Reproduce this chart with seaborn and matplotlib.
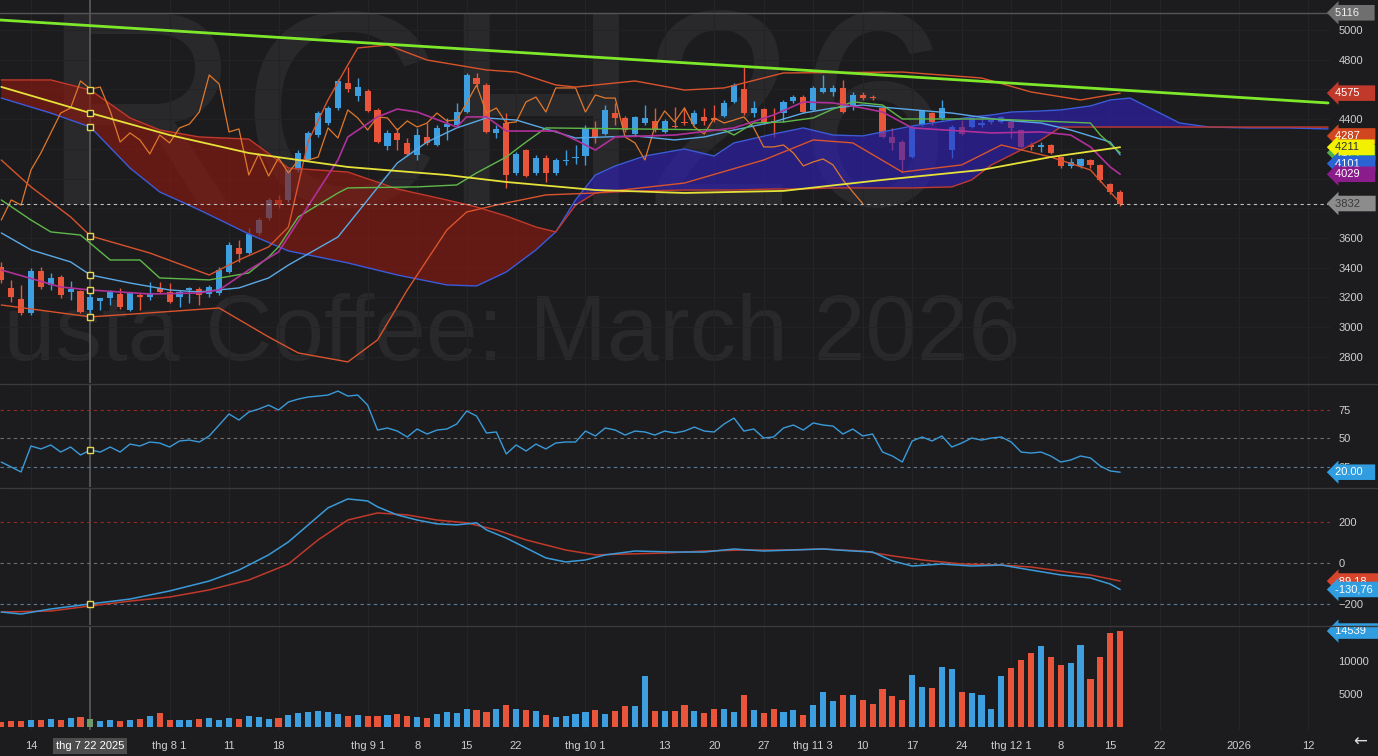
import numpy as np
import matplotlib
matplotlib.use("Agg")
import matplotlib.pyplot as plt
import matplotlib.transforms as mtransforms
from matplotlib.lines import Line2D
import seaborn as sns

# --- Dữ liệu nến (chỉ số phiên giao dịch 0..113) ---
opens = [3405, 3264, 3190, 3095, 3378, 3284, 3338, 3237, 3244, 3116,
         3176, 3196, 3223, 3116, 3217, 3203, 3264, 3237, 3203, 3250,
         3257, 3223, 3230, 3371, 3533, 3499, 3634, 3735, 3856, 3856,
         4058, 4125, 4293, 4374, 4475, 4643, 4556, 4590, 4462, 4219,
         4307, 4240, 4159, 4280, 4226, 4347, 4361, 4448, 4677, 4630,
         4307, 4374, 4038, 4192, 4038, 4139, 4038, 4118, 4139, 4152,
         4334, 4300, 4441, 4408, 4300, 4374, 4388, 4314, 4354, 4381,
         4367, 4415, 4408, 4421, 4516, 4603, 4441, 4468, 4388, 4441,
         4522, 4549, 4462, 4583, 4583, 4610, 4482, 4563, 4549, 4475,
         4280, 4246, 4145, 4361, 4441, 4408, 4192, 4347, 4347, 4361,
         4381, 4381, 4381, 4327, 4226, 4213, 4226, 4145, 4085, 4085,
         4125, 4092, 3964, 3910]
highs = [3439, 3318, 3284, 3398, 3405, 3365, 3351, 3311, 3250, 3230,
         3196, 3250, 3264, 3237, 3230, 3304, 3304, 3297, 3250, 3270,
         3270, 3284, 3405, 3573, 3587, 3668, 3735, 3869, 3890, 4071,
         4192, 4320, 4455, 4489, 4670, 4751, 4677, 4603, 4475, 4327,
         4341, 4273, 4341, 4374, 4361, 4408, 4509, 4711, 4711, 4643,
         4361, 4441, 4179, 4199, 4159, 4159, 4139, 4192, 4226, 4361,
         4388, 4495, 4509, 4421, 4421, 4495, 4475, 4401, 4482, 4482,
         4462, 4475, 4495, 4529, 4643, 4751, 4522, 4475, 4475, 4529,
         4563, 4563, 4623, 4697, 4630, 4664, 4583, 4583, 4563, 4482,
         4341, 4260, 4354, 4462, 4448, 4529, 4361, 4394, 4415, 4408,
         4401, 4421, 4394, 4334, 4246, 4246, 4233, 4145, 4139, 4139,
         4132, 4098, 3970, 3923]
lows = [3297, 3170, 3082, 3082, 3257, 3250, 3196, 3183, 3095, 3095,
        3116, 3149, 3122, 3109, 3116, 3183, 3230, 3163, 3136, 3163,
        3149, 3203, 3217, 3365, 3439, 3493, 3620, 3721, 3802, 3842,
        4044, 4118, 4280, 4361, 4462, 4583, 4522, 4448, 4240, 4192,
        4192, 4159, 4125, 4226, 4219, 4260, 4347, 4441, 4616, 4307,
        4273, 3937, 4024, 4011, 4024, 3977, 4024, 4092, 4098, 4092,
        4240, 4293, 4361, 4314, 4293, 4361, 4314, 4307, 4341, 4361,
        4361, 4361, 4381, 4415, 4509, 4428, 4415, 4367, 4280, 4381,
        4509, 4441, 4455, 4576, 4556, 4441, 4462, 4529, 4529, 4273,
        4192, 4038, 4139, 4354, 4361, 4394, 4139, 4293, 4341, 4347,
        4367, 4374, 4273, 4206, 4192, 4179, 4166, 4071, 4071, 4071,
        4071, 3977, 3896, 3816]
closes = [3318, 3203, 3095, 3378, 3270, 3331, 3217, 3257, 3102, 3203,
          3196, 3237, 3136, 3230, 3203, 3230, 3237, 3170, 3237, 3264,
          3217, 3270, 3385, 3553, 3493, 3627, 3721, 3856, 3822, 4058,
          4172, 4307, 4441, 4475, 4657, 4603, 4616, 4455, 4246, 4307,
          4260, 4166, 4293, 4240, 4341, 4367, 4448, 4697, 4637, 4314,
          4334, 4024, 4166, 4017, 4139, 4038, 4125, 4125, 4145, 4341,
          4273, 4462, 4408, 4327, 4415, 4408, 4327, 4388, 4347, 4374,
          4441, 4388, 4394, 4509, 4630, 4441, 4475, 4374, 4381, 4516,
          4549, 4448, 4610, 4610, 4610, 4448, 4563, 4542, 4542, 4280,
          4240, 4125, 4347, 4455, 4381, 4475, 4347, 4300, 4408, 4374,
          4394, 4415, 4341, 4213, 4213, 4226, 4172, 4085, 4112, 4132,
          4092, 3991, 3910, 3832]
volumes = [758, 909, 909, 1061, 1061, 1212, 1061, 1364, 1515, 1212,
           909, 1061, 909, 1061, 1212, 1667, 2121, 1061, 1061, 1061,
           1212, 1364, 1061, 1364, 1212, 1667, 1515, 1212, 1364, 1818,
           2121, 2273, 2424, 2273, 1970, 1667, 1818, 1667, 1667, 1818,
           1970, 1667, 1515, 1364, 1970, 2273, 2121, 2727, 2576, 2273,
           2727, 3333, 2727, 2576, 2424, 1818, 1515, 1667, 1970, 2273,
           2576, 1970, 2424, 3182, 3182, 7727, 2424, 2424, 2424, 3333,
           2424, 2121, 2727, 2727, 2273, 4848, 2576, 2121, 2727, 2273,
           2576, 1818, 3333, 5303, 3939, 4848, 4848, 4091, 3485, 5758,
           4697, 4091, 7879, 6061, 5909, 9091, 8788, 5303, 5152, 4848,
           2727, 7727, 8939, 10152, 11212, 12273, 10606, 9394, 9697, 12424,
           7273, 10606, 14242, 14539]
rsi = [28.9, 24.6, 20.2, 43.0, 40.4, 43.9, 37.7, 42.1, 35.1, 39.5,
       37.7, 42.1, 37.7, 44.7, 43.0, 46.5, 45.6, 42.1, 47.4, 48.2,
       46.5, 51.8, 61.4, 71.1, 65.8, 72.8, 75.4, 78.9, 74.6, 81.6,
       84.2, 86.0, 86.8, 87.7, 91.2, 86.8, 87.7, 78.9, 57.0, 58.8,
       56.1, 50.9, 57.9, 53.5, 57.0, 57.9, 62.3, 73.7, 69.3, 54.4,
       55.3, 36.0, 43.9, 38.6, 44.7, 40.4, 45.6, 46.5, 46.5, 56.1,
       51.8, 58.8, 57.0, 52.6, 56.1, 55.3, 52.6, 56.1, 54.4, 56.1,
       59.6, 56.1, 55.3, 62.3, 67.5, 56.1, 57.9, 50.0, 50.9, 58.8,
       61.4, 57.0, 63.2, 61.4, 60.5, 53.5, 57.9, 51.8, 53.5, 37.7,
       34.2, 28.9, 47.4, 50.9, 47.4, 51.8, 42.1, 45.6, 50.0, 48.2,
       50.0, 50.9, 46.5, 37.7, 36.8, 37.7, 34.2, 28.9, 30.7, 34.2,
       32.5, 25.4, 21.1, 20.0]

# --- Các đường chỉ báo (chỉ số phiên, giá trị) ---
trend_idx = [-1, 134]
trend_val = [5071, 4509]
cloud_idx = [0, 5, 9, 13, 16, 20, 25, 29, 35, 40, 45, 48, 51, 54, 56, 58, 60, 62, 65, 69,
             72, 74, 78, 81, 84, 87, 89, 92, 96, 98, 100, 102, 105, 107, 110, 112, 114, 116, 118, 119,
             122, 126, 130, 134]
span_a = [4542, 4441, 4347, 4071, 3910, 3789, 3627, 3513, 3432, 3351, 3284, 3277, 3371, 3520, 3641, 3856, 4024, 4085, 4152, 4199,
          4152, 4240, 4300, 4341, 4293, 4287, 4314, 4354, 4394, 4415, 4428, 4448, 4455, 4462, 4489, 4529, 4542, 4475, 4408, 4374,
          4347, 4341, 4341, 4334]
span_b = [4664, 4664, 4596, 4408, 4327, 4280, 4266, 4071, 4044, 3930, 3856, 3809, 3748, 3674, 3641, 3822, 3903, 3910, 3917, 3923,
          3923, 3923, 3930, 3930, 3937, 3937, 3937, 3937, 3944, 3991, 4092, 4159, 4260, 4347, 4347, 4347, 4347, 4347, 4347, 4347,
          4347, 4347, 4347, 4347]
ye_idx = [0, 9, 17, 25, 35, 45, 51, 60, 69, 79, 89, 99, 106, 113]
ye_val = [4617, 4441, 4293, 4172, 4078, 4024, 3977, 3923, 3903, 3917, 3991, 4058, 4145, 4211]
lb_idx = [0, 3, 7, 9, 13, 17, 20, 24, 27, 29, 34, 37, 40, 43, 46, 49, 52, 56, 58, 61,
          64, 68, 71, 74, 78, 81, 84, 87, 90, 96, 101, 105, 108, 112, 113]
lb_val = [3634, 3520, 3439, 3351, 3297, 3250, 3237, 3264, 3331, 3418, 3607, 3856, 4105, 4246, 4341, 4408, 4394, 4314, 4273, 4280,
          4287, 4260, 4280, 4327, 4381, 4441, 4475, 4495, 4475, 4441, 4394, 4374, 4327, 4246, 4160]
kj_idx = [0, 3, 5, 8, 11, 14, 16, 21, 25, 27, 28, 30, 34, 35, 42, 46, 48, 51, 53, 55,
          73, 74, 76, 79, 82, 84, 86, 89, 91, 100, 110, 111, 113]
kj_val = [3856, 3721, 3641, 3620, 3452, 3452, 3331, 3318, 3365, 3472, 3540, 3742, 3903, 3937, 3944, 3957, 4038, 4145, 4246, 4341,
          4327, 4293, 4374, 4381, 4408, 4468, 4516, 4495, 4401, 4401, 4374, 4293, 4174]
mg_idx = [0, 6, 9, 15, 20, 22, 25, 28, 34, 35, 38, 40, 42, 46, 47, 49, 51, 56, 58, 60,
          62, 68, 74, 78, 81, 84, 87, 89, 92, 100, 105, 108, 110, 112, 113]
mg_val = [3385, 3270, 3250, 3223, 3230, 3250, 3385, 3506, 4125, 4280, 4415, 4468, 4448, 4347, 4415, 4415, 4320, 4320, 4260, 4192,
          4280, 4293, 4341, 4428, 4516, 4509, 4475, 4448, 4341, 4307, 4314, 4293, 4213, 4078, 4029]
ub_idx = [0, 3, 7, 9, 15, 21, 24, 27, 29, 31, 33, 35, 36, 39, 43, 49, 52, 56, 58, 64,
          69, 73, 79, 91, 99, 104, 109, 113]
ub_val = [4125, 3944, 3742, 3614, 3499, 3351, 3452, 3540, 3674, 4250, 4530, 4765, 4879, 4899, 4798, 4731, 4717, 4630, 4616, 4657,
          4596, 4610, 4711, 4717, 4677, 4583, 4529, 4575]
lo_idx = [0, 9, 15, 22, 27, 30, 35, 38, 41, 45, 47, 50, 55, 60, 69, 77, 82, 86, 91, 97,
          101, 106, 110, 113]
lo_val = [3149, 3069, 3096, 3129, 2934, 2826, 2766, 2914, 3250, 3654, 3775, 3822, 3890, 3903, 3970, 4125, 4260, 4240, 4044, 4092,
          4226, 4145, 4058, 3836]
macd_idx = [0, 2, 5, 9, 13, 17, 21, 24, 27, 29, 31, 33, 35, 37, 38, 40, 42, 44, 46, 48,
            49, 51, 53, 55, 57, 59, 61, 64, 68, 71, 74, 77, 80, 83, 86, 88, 90, 92, 95, 98,
            101, 104, 107, 110, 112, 113]
macd_val = [-242, -252, -227, -202, -178, -138, -89, -35, 40, 104, 188, 272, 316, 306, 277, 237, 212, 193, 188, 198,
            163, 123, 74, 25, 5, 15, 40, 59, 54, 54, 69, 59, 64, 69, 59, 54, 10, -15, -5, -15,
            -10, -35, -59, -74, -104, -130.76]
sig_idx = [0, 5, 9, 13, 17, 21, 25, 29, 32, 35, 38, 41, 44, 47, 50, 53, 57, 60, 63, 67,
           71, 75, 79, 83, 87, 90, 93, 97, 101, 104, 107, 110, 113]
sig_val = [-242, -237, -212, -188, -168, -133, -84, -5, 114, 212, 247, 237, 212, 198, 163, 114, 64, 40, 44, 49,
           59, 64, 64, 69, 59, 35, 15, -5, -10, -20, -40, -59, -89.18]

price_ticks = [2800, 3000, 3200, 3400, 3600, 4400, 4800, 5000]
xt_pos = [3, 9, 17, 23, 28, 37, 42, 47, 52, 59, 67, 72, 77, 82, 87, 92, 97, 102, 107, 112, 117, 125, 132]
xt_lab = ["14", "thg 7 22 2025", "thg 8 1", "11", "18", "thg 9 1", "8", "15", "22", "thg 10 1", "13", "20",
          "27", "thg 11 3", "10", "17", "24", "thg 12 1", "8", "15", "22", "2026", "12"]
cross_i = 9

BG = "#1c1c1e"
UP = "#3d9fe0"
DN = "#e8553a"
GRID = "#242426"
TXT = "#cfcfcf"

sns.set_theme(style="dark", rc={"figure.facecolor": BG, "axes.facecolor": "none"})
plt.rcParams["font.family"] = ["Liberation Sans", "DejaVu Sans"]

fig = plt.figure(figsize=(13.78, 7.56), dpi=100)
fig.patch.set_facecolor(BG)
ax_p = fig.add_axes([0, 0.4934, 0.9652, 0.5066])
ax_r = fig.add_axes([0, 0.3558, 0.9652, 0.1349], sharex=ax_p)
ax_m = fig.add_axes([0, 0.1733, 0.9652, 0.1812], sharex=ax_p)
ax_v = fig.add_axes([0, 0.0344, 0.9652, 0.1362], sharex=ax_p)
axes = [ax_p, ax_r, ax_m, ax_v]

# watermark
fig.text(40 / 1378, 1 - 205 / 756, "RCH26", fontsize=200, color="#29292b", ha="left", va="baseline", zorder=-1)
fig.text(-167 / 1378, 1 - 360 / 756, "Robusta Coffee: March 2026", fontsize=67, color="#29292b",
         ha="left", va="baseline", zorder=-1)

for ax in axes:
    ax.set_facecolor("none")
    for s in ax.spines.values():
        s.set_visible(False)
    ax.yaxis.tick_right()
    ax.tick_params(axis="y", length=0, pad=6, labelsize=8, labelcolor=TXT)
    ax.tick_params(axis="x", length=0, labelbottom=False)
    ax.grid(False)
    for p in xt_pos:
        ax.axvline(p, color=GRID, lw=0.8, zorder=0)
    ax.axvline(cross_i, color="#5c5c5c", lw=1.2, zorder=1)

idx = np.arange(len(closes))
o, h, l, c = map(np.array, (opens, highs, lows, closes))
up = c >= o
col = np.where(up, UP, DN)

# --- price panel ---
ax_p.set_xlim(-0.13, 134.2)
ax_p.set_ylim(2624, 5202)
ax_p.set_yticks(price_ticks)
for t in range(2800, 5001, 200):
    ax_p.axhline(t, color=GRID, lw=0.6, zorder=0)
ax_p.axhline(5116, color="#555555", lw=1, zorder=1)

ax_p.vlines(idx, l, h, colors=col, lw=1, zorder=2)
body_lo = np.minimum(o, c)
body_h = np.maximum(np.abs(c - o), 8)
ax_p.bar(idx, body_h, bottom=body_lo, width=0.62, color=col, zorder=2.5, linewidth=0)

ci = np.array(cloud_idx, dtype=float)
sa = np.array(span_a, dtype=float)
sb = np.array(span_b, dtype=float)
ax_p.fill_between(ci, sa, sb, where=sb >= sa, interpolate=True, color="#8b1a10", alpha=0.65, lw=0, zorder=3)
ax_p.fill_between(ci, sa, sb, where=sa >= sb, interpolate=True, color="#3020c0", alpha=0.6, lw=0, zorder=3)
sns.lineplot(x=ci, y=sa, ax=ax_p, color="#3b5bdb", lw=1, zorder=4)
sns.lineplot(x=ci, y=sb, ax=ax_p, color="#c0392b", lw=1, zorder=4)

sns.lineplot(x=idx[26:] - 26, y=c[26:], ax=ax_p, color="#e0782c", lw=0.9, zorder=4)
sns.lineplot(x=ub_idx, y=ub_val, ax=ax_p, color="#d9532c", lw=1, zorder=4)
sns.lineplot(x=lo_idx, y=lo_val, ax=ax_p, color="#d9532c", lw=1, zorder=4)
sns.lineplot(x=lb_idx, y=lb_val, ax=ax_p, color="#5aa9e6", lw=1, zorder=4)
sns.lineplot(x=kj_idx, y=kj_val, ax=ax_p, color="#5fb84a", lw=1, zorder=4)
sns.lineplot(x=mg_idx, y=mg_val, ax=ax_p, color="#b0309a", lw=1.2, zorder=4)
sns.lineplot(x=ye_idx, y=ye_val, ax=ax_p, color="#e6e23a", lw=1.3, zorder=5)
sns.lineplot(x=trend_idx, y=trend_val, ax=ax_p, color="#7ee82a", lw=2, zorder=5)
ax_p.axhline(closes[-1], color="#bdbdbd", lw=0.8, ls=(0, (3, 3)), zorder=5)

# crosshair markers
for xs, ys in [(cloud_idx, span_b), (ye_idx, ye_val), (cloud_idx, span_a), (ub_idx, ub_val),
               (lb_idx, lb_val), (mg_idx, mg_val), (lo_idx, lo_val)]:
    ax_p.plot(cross_i, ys[xs.index(cross_i)], marker="s", ms=5, mfc=BG, mec="#e8d44d", mew=1, zorder=6)


def tag(ax, val, txt, fc, tc):
    tr = mtransforms.blended_transform_factory(ax.transAxes, ax.transData)
    ax.text(1.004, val, txt, transform=tr, ha="left", va="center", fontsize=8, color=tc, zorder=10,
            clip_on=False, bbox=dict(boxstyle="larrow,pad=0.25", fc=fc, ec="none"))


tag(ax_p, 5116, "5116    ", "#6f6f6f", "#eeeeee")
tag(ax_p, 4575, "4575    ", "#c0392b", "white")
tag(ax_p, 4174, "4174    ", "#4cae4c", "white")
tag(ax_p, 4287, "4287    ", "#d0461f", "white")
tag(ax_p, 4211, "4211    ", "#f2f200", "#333333")
tag(ax_p, 4101, "4101    ", "#2a63d4", "white")
tag(ax_p, 4029, "4029    ", "#8b1c8b", "white")
tag(ax_p, closes[-1], f"{closes[-1]}    ", "#8c8c8c", "#3a3a3a")

# --- RSI ---
ax_r.set_ylim(7, 96.5)
ax_r.set_yticks([25, 50, 75])
ax_r.axhline(75, color="#8a2b2b", lw=0.8, ls=(0, (3, 3)))
ax_r.axhline(50, color="#6e6e6e", lw=0.8, ls=(0, (3, 3)))
ax_r.axhline(25, color="#5a7a9a", lw=0.8, ls=(0, (3, 3)))
sns.lineplot(x=idx, y=rsi, ax=ax_r, color="#3a9ad9", lw=1, zorder=4)
ax_r.plot(cross_i, rsi[cross_i], marker="s", ms=5, mfc=BG, mec="#e8d44d", mew=1, zorder=6)
tag(ax_r, rsi[-1], f"{rsi[-1]:.2f}   ", "#2f9de0", "white")

# --- MACD ---
ax_m.set_ylim(-306, 370)
ax_m.set_yticks([-200, 0, 200])
ax_m.axhline(200, color="#8a2b2b", lw=0.8, ls=(0, (3, 3)))
ax_m.axhline(0, color="#6e6e6e", lw=0.8, ls=(0, (3, 3)))
ax_m.axhline(-200, color="#5a7a9a", lw=0.8, ls=(0, (3, 3)))
sns.lineplot(x=sig_idx, y=sig_val, ax=ax_m, color="#c0392b", lw=1.1, zorder=4)
sns.lineplot(x=macd_idx, y=macd_val, ax=ax_m, color="#3a9ad9", lw=1.1, zorder=5)
ax_m.plot(cross_i, macd_val[macd_idx.index(cross_i)], marker="s", ms=5, mfc=BG, mec="#e8d44d", mew=1, zorder=6)
tag(ax_m, sig_val[-1], f"{sig_val[-1]:.2f}".replace(".", ",") + "   ", "#d9452b", "white")
tag(ax_m, macd_val[-1], f"{macd_val[-1]:.2f}".replace(".", ",") + " ", "#2f9de0", "white")

# --- Volume ---
ax_v.set_ylim(-455, 15150)
ax_v.set_yticks([5000, 10000])
vcol = col.copy()
vcol[cross_i] = "#6f9a6a"
ax_v.bar(idx, volumes, width=0.62, color=vcol, linewidth=0, zorder=3)
tag(ax_v, volumes[-1], f"{volumes[-1]}   ", "#2f9de0", "white")
ax_v.set_xticks(xt_pos)
ax_v.set_xticklabels(xt_lab)
ax_v.tick_params(axis="x", labelbottom=True, labelsize=8, labelcolor=TXT, pad=8)
ax_v.get_xticklabels()[1].set_bbox(dict(fc="#4d4d4d", ec="none", pad=2))
ax_v.get_xticklabels()[1].set_color("white")

for ax in axes:
    ax.set_xlabel("")
    ax.set_ylabel("")

for yy in (1 - 384 / 756, 1 - 487.5 / 756, 1 - 626 / 756):
    fig.add_artist(Line2D([0, 1], [yy, yy], transform=fig.transFigure, color="#3a3a3c", lw=1))

fig.text(1360 / 1378, 1 - 742 / 756, "\u2190", fontsize=12, color="#dddddd", ha="center", va="center",
         family=["DejaVu Sans"])

fig.savefig("out.png", dpi=100, facecolor=BG)
